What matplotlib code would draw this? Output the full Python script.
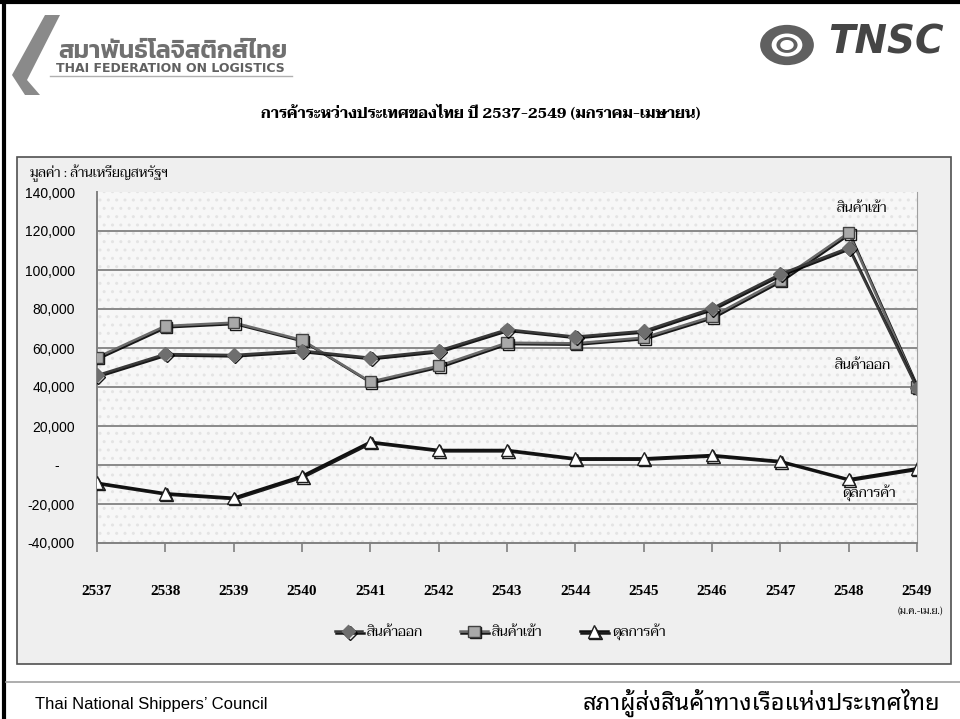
import matplotlib
matplotlib.use("Agg")
import matplotlib.pyplot as plt
import matplotlib.patheffects as pe
from matplotlib.patches import Rectangle, Wedge, Polygon

# ---- data ----
years = ["2537", "2538", "2539", "2540", "2541", "2542", "2543",
         "2544", "2545", "2546", "2547", "2548", "2549"]
exports = [46000, 56900, 56400, 58600, 55000, 58600, 69500,
           65800, 68700, 80300, 97900, 111400, 39500]
imports = [55200, 71300, 73000, 64100, 42700, 50800, 62700,
           62400, 65300, 76100, 94900, 119100, 40000]
balance = [-9100, -14500, -16800, -5600, 11900, 7700, 7700,
           3400, 3400, 5100, 2000, -7300, -1700]
yticks = [-40000, -20000, 0, 20000, 40000, 60000, 80000, 100000, 120000, 140000]
ytick_labels = ["-40,000", "-20,000", "-    ", "20,000", "40,000", "60,000",
                "80,000", "100,000", "120,000", "140,000"]
series_names = ["สินค้าออก", "สินค้าเข้า", "ดุลการค้า"]

SERIF = ["Taviraj", "DejaVu Sans"]
SANS = ["Noto Sans Thai Looped", "DejaVu Sans"]
LOGO = ["Kanit", "DejaVu Sans"]

W, H = 960, 719
fig = plt.figure(figsize=(W / 100, H / 100), dpi=100)

def fx(x):
    return x / W

def fy(y):
    return 1 - y / H

fig.add_artist(plt.Line2D([fx(4), fx(4)], [0, 1], color="black", lw=3, transform=fig.transFigure))
fig.add_artist(plt.Line2D([0, 1], [fy(1.5), fy(1.5)], color="black", lw=3, transform=fig.transFigure))
fig.add_artist(plt.Line2D([fx(6), 1], [fy(682), fy(682)], color="#a0a0a0", lw=1.2, transform=fig.transFigure))

fig.add_artist(Rectangle((fx(17), fy(664)), fx(951) - fx(17), fy(157) - fy(664),
                         transform=fig.transFigure, facecolor="#efefef",
                         edgecolor="#505050", lw=1.2, zorder=0))

ax = fig.add_axes([fx(97), fy(543), fx(917) - fx(97), fy(192) - fy(543)])
ax.set_facecolor("#f7f7f7")
ax.add_patch(Rectangle((0, 0), 1, 1, transform=ax.transAxes, facecolor="none",
                       edgecolor="#e4e4e4", hatch="..", lw=0, zorder=0))
x = list(range(len(years)))
ax.set_xlim(0, len(years) - 1)
ax.set_ylim(-40000, 140000)
for v in yticks[1:-1]:
    ax.axhline(v, color="#8a8a8a", lw=1.4, zorder=1)

shadow = [pe.SimpleLineShadow(offset=(1, -1), shadow_color="black", alpha=0.9), pe.Normal()]
l1, = ax.plot(x, exports, color="#3a3a3a", lw=1.8, marker="D", ms=7, mfc="#6e6e6e",
              mec="#6e6e6e", path_effects=shadow, zorder=4, label=series_names[0])
l2, = ax.plot(x, imports, color="#6a6a6a", lw=1.8, marker="s", ms=8, mfc="#a9a9a9",
              mec="#404040", mew=1, path_effects=shadow, zorder=3, label=series_names[1])
l3, = ax.plot(x, balance, color="#101010", lw=1.8, marker="^", ms=9, mfc="white",
              mec="#202020", mew=1, path_effects=shadow, zorder=3, label=series_names[2])

ax.set_yticks(yticks)
ax.set_yticklabels(ytick_labels, fontsize=10, family="Liberation Sans")
ax.tick_params(axis="y", length=0, pad=16)
ax.set_xticks(x)
ax.set_xticklabels(years, fontsize=11, family="Liberation Serif", fontweight="bold")
ax.tick_params(axis="x", length=6.5, width=1.2, color="#808080", pad=24, direction="out")
for s in ["left", "bottom"]:
    ax.spines[s].set_color("#808080")
    ax.spines[s].set_linewidth(1.4)
ax.spines["right"].set_color("#a0a0a0")
ax.spines["top"].set_visible(False)

ax.text(11.2, 131500, "สินค้าเข้า", family=SERIF, fontsize=10, ha="center", va="center")
ax.text(11.2, 51300, "สินค้าออก", family=SERIF, fontsize=10, ha="center", va="center")
ax.text(11.3, -14000, "ดุลการค้า", family=SERIF, fontsize=10, ha="center", va="center")

fig.text(fx(30), fy(173), "มูลค่า : ล้านเหรียญสหรัฐฯ", family=SERIF, fontsize=9.5, va="center")
fig.text(fx(920), fy(612), "(ม.ค.-เม.ย.)", family=SERIF, fontsize=7, ha="center", va="center")

fig.legend(handles=[l1, l2, l3], loc="center", bbox_to_anchor=(fx(500), fy(632)),
           ncol=3, frameon=False, prop={"family": SERIF, "size": 10},
           handlelength=2, columnspacing=2.7, handletextpad=0.3)

fig.text(fx(481), fy(113), "การค้าระหว่างประเทศของไทย ปี 2537-2549 (มกราคม-เมษายน)",
         family=SERIF, fontsize=10.8, fontweight="bold", ha="center", va="center")

fig.add_artist(Polygon([[fx(12), fy(75)], [fx(45), fy(15)], [fx(60), fy(15)], [fx(27), fy(80)], [fx(40), fy(95)], [fx(25), fy(95)]],
                       closed=True, transform=fig.transFigure, facecolor="#8a8a8a", edgecolor="none"))
fig.text(fx(58), fy(52), "สมาพันธ์โลจิสติกส์ไทย", family=LOGO, fontsize=18, fontweight="semibold",
         color="#707070", va="center")
fig.text(fx(56), fy(68), "THAI FEDERATION ON LOGISTICS", family="DejaVu Sans", fontsize=9,
         fontweight="bold", color="#606060", va="center")
fig.add_artist(plt.Line2D([fx(50), fx(292)], [fy(76), fy(76)], color="#b0b0b0", lw=1, transform=fig.transFigure))

fig.add_artist(Wedge((fx(787), fy(45)), 0.028, 0, 360, width=0.012, transform=fig.transFigure,
                     facecolor="#606060", edgecolor="none"))
fig.add_artist(Wedge((fx(787), fy(45)), 0.011, 0, 360, width=0.004, transform=fig.transFigure,
                     facecolor="#606060", edgecolor="none"))
fig.text(fx(828), fy(43), "TNSC", family="DejaVu Sans", fontsize=28, fontweight="bold",
         style="italic", color="#454545", va="center")

fig.text(fx(35), fy(705), "Thai National Shippers’ Council", family="Liberation Sans",
         fontsize=12, va="center")
fig.text(fx(940), fy(703), "สภาผู้ส่งสินค้าทางเรือแห่งประเทศไทย", family=SANS, fontsize=17,
         ha="right", va="center")

fig.savefig("out.png", dpi=100)
